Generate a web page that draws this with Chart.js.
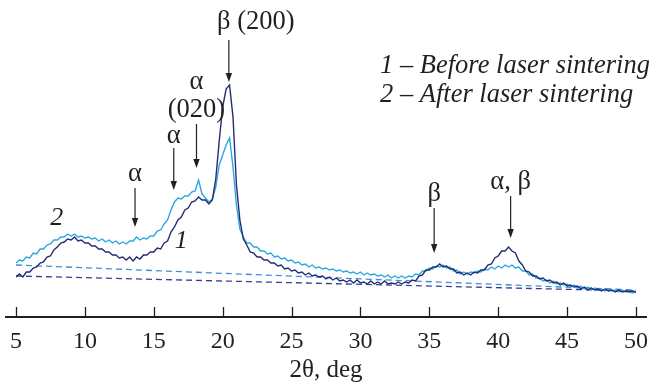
<!DOCTYPE html>
<html>
<head>
<meta charset="utf-8">
<script src="https://cdn.jsdelivr.net/npm/chart.js@4/dist/chart.umd.min.js"></script>
<style>
  html, body { margin: 0; padding: 0; background: #fff; }
  #wrap { width: 658px; height: 385px; }
</style>
</head>
<body>
<div id="wrap"><canvas id="xrd"></canvas></div>
<script>
/* ---- data (intensity in arbitrary units) ---- */
const twoTheta = [
  5, 5.25, 5.5, 5.75, 6, 6.25, 6.5, 6.75, 7, 7.25, 7.5, 7.75, 8, 8.25, 8.5, 8.75, 9, 9.25, 9.5, 9.75,
  10, 10.25, 10.5, 10.75, 11, 11.25, 11.5, 11.75, 12, 12.25, 12.5, 12.75, 13, 13.25, 13.5, 13.75, 14, 14.25, 14.5, 14.75,
  15, 15.25, 15.5, 15.75, 16, 16.25, 16.5, 16.75, 17, 17.25, 17.5, 17.75, 18, 18.25, 18.5, 18.75, 19, 19.25, 19.5, 19.75,
  20, 20.25, 20.5, 20.75, 21, 21.25, 21.5, 21.75, 22, 22.25, 22.5, 22.75, 23, 23.25, 23.5, 23.75, 24, 24.25, 24.5, 24.75,
  25, 25.25, 25.5, 25.75, 26, 26.25, 26.5, 26.75, 27, 27.25, 27.5, 27.75, 28, 28.25, 28.5, 28.75, 29, 29.25, 29.5, 29.75,
  30, 30.25, 30.5, 30.75, 31, 31.25, 31.5, 31.75, 32, 32.25, 32.5, 32.75, 33, 33.25, 33.5, 33.75, 34, 34.25, 34.5, 34.75,
  35, 35.25, 35.5, 35.75, 36, 36.25, 36.5, 36.75, 37, 37.25, 37.5, 37.75, 38, 38.25, 38.5, 38.75, 39, 39.25, 39.5, 39.75,
  40, 40.25, 40.5, 40.75, 41, 41.25, 41.5, 41.75, 42, 42.25, 42.5, 42.75, 43, 43.25, 43.5, 43.75, 44, 44.25, 44.5, 44.75,
  45, 45.25, 45.5, 45.75, 46, 46.25, 46.5, 46.75, 47, 47.25, 47.5, 47.75, 48, 48.25, 48.5, 48.75, 49, 49.25, 49.5, 49.75,
  50
];

// curve 1 - before laser sintering
const before = [
  40, 43, 40, 45, 45, 49, 50, 54, 55, 60, 61, 67, 70, 74, 75, 78, 77, 80, 76, 77,
  74, 74, 71, 71, 68, 68, 65, 65, 62, 62, 59, 60, 57, 60, 56, 60, 58, 62, 62, 65,
  65, 69, 68, 74, 76, 85, 90, 97, 100, 107, 109, 115, 116, 120, 117, 117, 113, 117, 138, 176,
  210, 228, 232, 200, 132, 97, 78, 72, 65, 64, 60, 60, 57, 57, 54, 54, 51, 52, 48, 49,
  46, 47, 44, 45, 42, 44, 41, 42, 40, 41, 38, 40, 37, 39, 36, 37, 35, 37, 34, 37,
  34, 35, 33, 36, 33, 35, 33, 36, 33, 34, 33, 35, 33, 35, 34, 37, 36, 41, 42, 47,
  47, 50, 50, 53, 50, 51, 48, 48, 44, 45, 42, 44, 42, 45, 44, 47, 47, 52, 53, 59,
  61, 66, 66, 70, 66, 64, 56, 52, 46, 45, 41, 41, 38, 39, 36, 37, 34, 35, 32, 34,
  31, 32, 30, 31, 28, 30, 27, 29, 27, 28, 26, 28, 26, 27, 25, 27, 25, 26, 25, 26,
  25
];

// curve 2 - after laser sintering
const after = [
  54, 57, 56, 60, 59, 64, 63, 68, 68, 72, 73, 77, 77, 80, 80, 83, 81, 83, 80, 81,
  79, 80, 78, 79, 76, 78, 75, 77, 74, 76, 73, 75, 73, 76, 76, 80, 77, 79, 78, 81,
  81, 86, 87, 93, 97, 107, 115, 119, 118, 121, 121, 125, 126, 137, 123, 119, 115, 118, 130, 152,
  162, 172, 179, 150, 112, 88, 80, 74, 74, 70, 70, 66, 66, 63, 64, 60, 61, 58, 59, 56,
  57, 54, 55, 52, 53, 50, 52, 49, 50, 48, 49, 47, 48, 46, 47, 45, 46, 44, 45, 43,
  45, 42, 44, 42, 43, 41, 42, 40, 42, 39, 41, 39, 41, 39, 41, 40, 43, 42, 46, 46,
  49, 48, 51, 50, 52, 49, 50, 46, 47, 43, 45, 43, 45, 44, 46, 45, 48, 47, 50, 48,
  51, 49, 52, 50, 52, 49, 50, 46, 46, 42, 43, 39, 39, 36, 37, 34, 36, 33, 34, 32,
  33, 30, 32, 29, 31, 28, 30, 27, 29, 27, 28, 26, 28, 26, 27, 25, 27, 25, 26, 24,
  25
];

// dashed background lines
const baseTheta = [5, 50];
const baseBefore = [41, 26];
const baseAfter = [52, 27];

const xTicks = [5, 10, 15, 20, 25, 30, 35, 40, 45, 50];

const SERIF = '"Liberation Serif", "Times New Roman", serif';
const INK = '#231f20';

const toPoints = (xs, ys) => xs.map((x, i) => ({ x: x, y: ys[i] }));

/* ---- peak labels: text lines, 2theta, label y, arrow top, arrow tip ---- */
const peakMarks = [
  { lines: ['α'], at: 13.64, textY: [143], from: 129, to: 90 },
  { lines: ['α'], at: 16.45, textY: [181], from: 169, to: 127 },
  { lines: ['α', '(020)'], at: 18.1, textY: [235, 207], from: 193, to: 149 },
  { lines: ['β (200)'], at: 20.45, textY: [295], from: 277, to: 235, dx: 27 },
  { lines: ['β'], at: 35.35, textY: [123], from: 109, to: 64 },
  { lines: ['α, β'], at: 40.9, textY: [135], from: 121, to: 79 }
];

const annotatePlugin = {
  id: 'annotate',
  afterDatasetsDraw(chart) {
    const ctx = chart.ctx;
    const xs = chart.scales.x;
    const ys = chart.scales.y;
    ctx.save();
    ctx.fillStyle = INK;
    ctx.strokeStyle = INK;

    // arrows + labels
    peakMarks.forEach(m => {
      const px = xs.getPixelForValue(m.at);
      const y0 = ys.getPixelForValue(m.from);
      const y1 = ys.getPixelForValue(m.to);
      ctx.lineWidth = 1.2;
      ctx.beginPath();
      ctx.moveTo(px, y0);
      ctx.lineTo(px, y1 - 7);
      ctx.stroke();
      ctx.beginPath();
      ctx.moveTo(px, y1);
      ctx.lineTo(px - 3.2, y1 - 9);
      ctx.lineTo(px + 3.2, y1 - 9);
      ctx.closePath();
      ctx.fill();

      ctx.font = '26.5px ' + SERIF;
      ctx.textAlign = 'center';
      ctx.textBaseline = 'middle';
      m.lines.forEach((t, i) => {
        ctx.fillText(t, px + (m.dx || 0), ys.getPixelForValue(m.textY[i]));
      });
    });

    // curve numbers
    ctx.font = 'italic 26px ' + SERIF;
    ctx.fillText('2', xs.getPixelForValue(7.96), ys.getPixelForValue(99));
    ctx.fillText('1', xs.getPixelForValue(17.0), ys.getPixelForValue(76));

    // legend text
    ctx.textAlign = 'left';
    ctx.textBaseline = 'alphabetic';
    ctx.font = 'italic 26.5px ' + SERIF;
    const lx = xs.getPixelForValue(31.42);
    ctx.fillText('1 – Before laser sintering', lx, ys.getPixelForValue(244));
    ctx.fillText('2 – After laser sintering', lx, ys.getPixelForValue(215));
    ctx.restore();
  },
  afterDraw(chart) {
    // axis line with inward ticks
    const ctx = chart.ctx;
    const xs = chart.scales.x;
    const base = chart.chartArea.bottom;
    ctx.save();
    ctx.strokeStyle = INK;
    ctx.lineWidth = 2;
    ctx.beginPath();
    ctx.moveTo(xs.left - 11, base);
    ctx.lineTo(xs.right + 11, base);
    ctx.stroke();
    ctx.lineWidth = 1.3;
    xTicks.forEach(t => {
      const px = Math.round(xs.getPixelForValue(t)) + 0.5;
      ctx.beginPath();
      ctx.moveTo(px, base);
      ctx.lineTo(px, base - 10);
      ctx.stroke();
    });
    ctx.restore();
  }
};

new Chart(document.getElementById('xrd'), {
  type: 'line',
  data: {
    datasets: [
      {
        label: '1 – Before laser sintering',
        data: toPoints(twoTheta, before),
        borderColor: '#252b74',
        borderWidth: 1.4,
        pointRadius: 0,
        tension: 0
      },
      {
        label: '2 – After laser sintering',
        data: toPoints(twoTheta, after),
        borderColor: '#2ba8e0',
        borderWidth: 1.4,
        pointRadius: 0,
        tension: 0
      },
      {
        label: 'background 1',
        data: toPoints(baseTheta, baseBefore),
        borderColor: '#34408e',
        borderWidth: 1.3,
        borderDash: [6, 4],
        pointRadius: 0
      },
      {
        label: 'background 2',
        data: toPoints(baseTheta, baseAfter),
        borderColor: '#3e8ed8',
        borderWidth: 1.3,
        borderDash: [6, 4],
        pointRadius: 0
      }
    ]
  },
  options: {
    responsive: true,
    maintainAspectRatio: false,
    animation: false,
    layout: { padding: { left: 14.7, right: 16, top: 0, bottom: 0 } },
    plugins: {
      legend: { display: false },
      tooltip: { enabled: false }
    },
    scales: {
      x: {
        type: 'linear',
        min: 5,
        max: 50,
        afterFit: s => { s.height = 68; },
        afterBuildTicks: s => { s.ticks = xTicks.map(v => ({ value: v })); },
        grid: { display: false, drawTicks: false },
        border: { display: false },
        ticks: {
          color: INK,
          padding: 10,
          font: { family: SERIF, size: 24 },
          maxRotation: 0,
          autoSkip: false
        },
        title: {
          display: true,
          text: '2θ, deg',
          color: INK,
          font: { family: SERIF, size: 25 },
          padding: { top: 0, bottom: 0 }
        }
      },
      y: {
        display: false,
        min: 0,
        max: 317
      }
    }
  },
  plugins: [annotatePlugin]
});
</script>
</body>
</html>
